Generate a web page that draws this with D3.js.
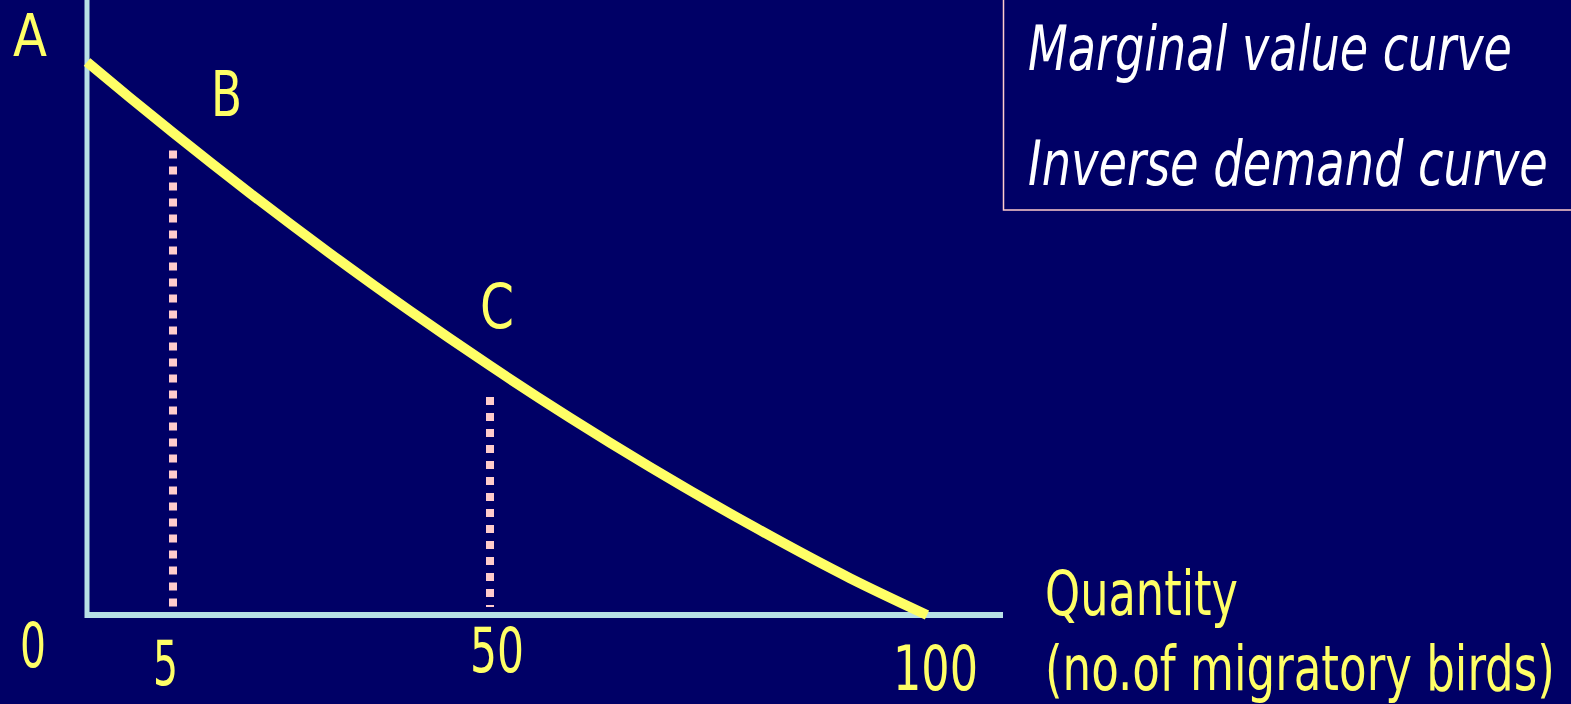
<!DOCTYPE html>
<html>
<head>
<meta charset="utf-8">
<script src="https://cdn.jsdelivr.net/npm/d3@7"></script>
<style>
html,body{margin:0;padding:0;background:#000066;overflow:hidden;}
svg{display:block;}
text{font-family:"Liberation Sans Narrow","Arial Narrow","DejaVu Sans Condensed","Liberation Sans",sans-serif;font-stretch:condensed;}
</style>
</head>
<body>
<svg id="chart" width="1571" height="704"></svg>
<script>
// ---- data ----
const quantities = [0, 2.5, 5, 15.93, 27.29, 38.64, 50, 59.15, 68.31, 79.75, 91.19, 100];
const values     = [100, 93.54, 87.22, 76.27, 65.38, 54.98, 45.08, 35.67, 26.76, 16.33, 6.66, 0];
const pointLabels = ["A", "B", "C"];
const dropQuantities = [5, 50];
const dropTops = [84, 39.4];
const tickValues = [0, 5, 50, 100];
const tickLabels = ["0", "5", "50", "100"];
const legendLines = ["Marginal value curve", "Inverse demand curve"];
const axisTitle = ["Quantity", "(no.of migratory birds)"];

// ---- layout ----
const W = 1571, H = 704;
const svg = d3.select("#chart");
svg.append("rect").attr("width", W).attr("height", H).attr("fill", "#000066");

const x = d3.scaleLinear().domain([0, 5, 50, 100]).range([87, 173, 490, 927]);
const y = d3.scaleLinear().domain([0, 100]).range([615, 62]);

const yellow = "#ffff66";
const axisCol = "#b8e0e6";

// axes
svg.append("line").attr("x1", x(0)).attr("x2", x(0)).attr("y1", 0).attr("y2", y(0) + 3)
  .attr("stroke", axisCol).attr("stroke-width", 5);
svg.append("line").attr("x1", x(0) - 2).attr("x2", 1003).attr("y1", y(0)).attr("y2", y(0))
  .attr("stroke", axisCol).attr("stroke-width", 6);

// dotted drop lines
svg.selectAll("line.drop").data(dropQuantities).enter().append("line")
  .attr("class", "drop")
  .attr("x1", d => x(d)).attr("x2", d => x(d))
  .attr("y1", (d, i) => y(dropTops[i])).attr("y2", y(0) - 8)
  .attr("stroke", "#ffcccc").attr("stroke-width", 8).attr("stroke-dasharray", "8,8");

// curve
const pts = quantities.map((q, i) => [q, values[i]]);
const line = d3.line().x(d => x(d[0])).y(d => y(d[1])).curve(d3.curveMonotoneX);
svg.append("path").attr("d", line(pts)).attr("fill", "none")
  .attr("stroke", yellow).attr("stroke-width", 10).attr("stroke-linecap", "butt");

// helper for text: horizontally scaled to a target width
function label(t, px, py, opts = {}) {
  const g = svg.append("g");
  const el = g.append("text").text(t).attr("x", 0).attr("y", 0)
    .attr("fill", opts.fill || yellow).attr("font-size", opts.size || 62);
  if (opts.italic) el.attr("font-style", "italic");
  let sx = 1;
  if (opts.len) {
    const nat = el.node().getComputedTextLength();
    if (nat > 0) sx = opts.len / nat;
  }
  g.attr("transform", `translate(${px},${py}) scale(${sx},1)`);
  return el;
}

// point labels
label(pointLabels[0], 13, 56, {len: 34, size: 59});
label(pointLabels[1], 211, 116, {len: 31});
label(pointLabels[2], 480, 328, {len: 34});

// tick labels
const tickPos = [[20, 667, 26], [153, 685, 25], [470, 672, 54], [893, 690, 85]];
tickLabels.forEach((t, i) => label(t, tickPos[i][0], tickPos[i][1], {len: tickPos[i][2]}));

// axis title
label(axisTitle[0], 1045, 615, {len: 193});
label(axisTitle[1], 1045, 690, {len: 510});

// legend box
svg.append("rect").attr("x", 1003.5).attr("y", -5).attr("width", 600).attr("height", 215)
  .attr("fill", "none").attr("stroke", "#ffcccc").attr("stroke-width", 1.5);
label(legendLines[0], 1028, 70, {fill: "#ffffff", italic: true, len: 484});
label(legendLines[1], 1028, 185, {fill: "#ffffff", italic: true, len: 520});
</script>
</body>
</html>
